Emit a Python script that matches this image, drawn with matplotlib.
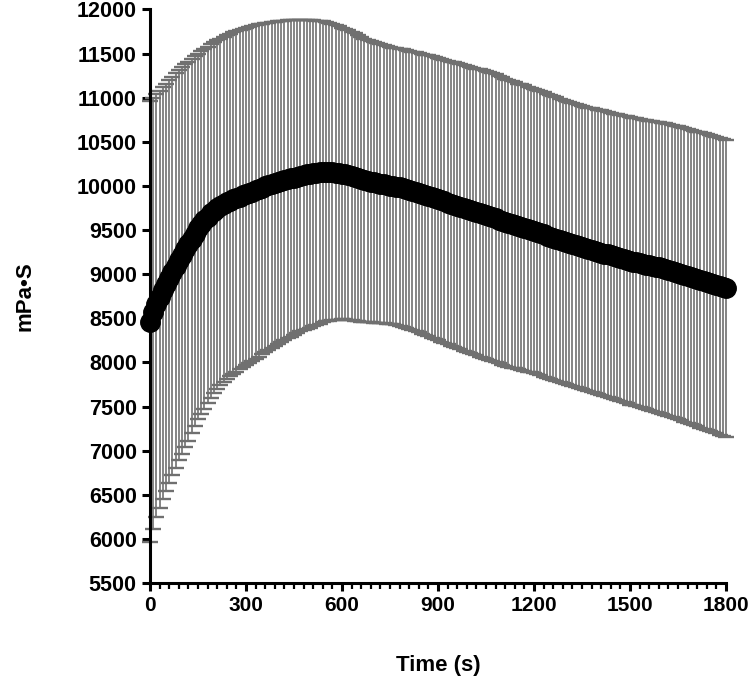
import matplotlib
matplotlib.use("Agg")
import matplotlib.pyplot as plt

# Time points (s), one reading every 10 s
time_s = list(range(0, 1801, 10))

# Mean viscosity (mPa·s)
mean_visc = [
    8460, 8570, 8660, 8740, 8820, 8890, 8960, 9030, 9090, 9160,
    9220, 9280, 9340, 9400, 9460, 9520, 9570, 9610, 9650, 9690,
    9720, 9750, 9775, 9795, 9815, 9835, 9850, 9865, 9880, 9895,
    9905, 9920, 9935, 9950, 9965, 9980, 9995, 10010, 10025, 10035,
    10045, 10055, 10065, 10075, 10085, 10095, 10105, 10115, 10125, 10130,
    10138, 10145, 10150, 10155, 10160, 10162, 10160, 10156, 10150, 10145,
    10140, 10135, 10125, 10112, 10100, 10088, 10075, 10065, 10055, 10047,
    10040, 10032, 10026, 10020, 10012, 10005, 9998, 9990, 9983, 9975,
    9965, 9955, 9945, 9935, 9925, 9912, 9900, 9888, 9875, 9862,
    9850, 9838, 9825, 9812, 9800, 9788, 9776, 9764, 9752, 9740,
    9728, 9716, 9705, 9694, 9683, 9672, 9660, 9646, 9632, 9618,
    9604, 9590, 9576, 9564, 9553, 9543, 9533, 9523, 9512, 9500,
    9488, 9476, 9463, 9450, 9437, 9424, 9411, 9398, 9385, 9372,
    9360, 9349, 9338, 9327, 9316, 9305, 9295, 9285, 9275, 9265,
    9255, 9245, 9234, 9224, 9213, 9202, 9192, 9182, 9172, 9162,
    9152, 9143, 9134, 9125, 9116, 9108, 9100, 9092, 9084, 9076,
    9068, 9058, 9048, 9037, 9026, 9015, 9004, 8993, 8982, 8970,
    8958, 8946, 8934, 8922, 8910, 8898, 8886, 8874, 8862, 8850,
    8840,
]

# Error bar length above the mean (mPa·s)
err_up = [
    2500, 2430, 2380, 2340, 2300, 2270, 2240, 2210, 2185, 2150,
    2125, 2100, 2070, 2040, 2010, 1980, 1958, 1945, 1930, 1915,
    1908, 1900, 1895, 1895, 1893, 1890, 1890, 1890, 1888, 1885,
    1887, 1883, 1878, 1872, 1865, 1858, 1850, 1842, 1833, 1828,
    1822, 1816, 1809, 1802, 1794, 1783, 1773, 1763, 1753, 1755,
    1745, 1735, 1725, 1715, 1705, 1695, 1685, 1678, 1670, 1665,
    1650, 1645, 1640, 1635, 1628, 1620, 1612, 1605, 1598, 1592,
    1588, 1584, 1580, 1576, 1572, 1568, 1568, 1568, 1570, 1572,
    1574, 1576, 1578, 1580, 1583, 1586, 1589, 1592, 1595, 1598,
    1600, 1603, 1605, 1608, 1610, 1612, 1614, 1616, 1618, 1620,
    1622, 1624, 1626, 1628, 1630, 1632, 1634, 1633, 1632, 1630,
    1628, 1626, 1624, 1622, 1620, 1618, 1617, 1616, 1615, 1614,
    1613, 1612, 1611, 1610, 1609, 1608, 1607, 1606, 1605, 1604,
    1603, 1603, 1602, 1602, 1602, 1602, 1603, 1604, 1605, 1607,
    1609, 1611, 1613, 1615, 1617, 1619, 1621, 1623, 1625, 1627,
    1629, 1631, 1633, 1635, 1637, 1639, 1641, 1643, 1645, 1647,
    1649, 1651, 1653, 1655, 1657, 1659, 1661, 1663, 1665, 1667,
    1669, 1671, 1673, 1675, 1676, 1677, 1678, 1679, 1680, 1682,
    1684,
]

# Error bar length below the mean (mPa·s)
err_down = [
    2490, 2455, 2415, 2390, 2365, 2345, 2325, 2305, 2290, 2270,
    2255, 2240, 2225, 2205, 2185, 2165, 2150, 2135, 2115, 2090,
    2070, 2050, 2035, 2020, 2005, 1990, 1980, 1968, 1955, 1945,
    1935, 1925, 1915, 1908, 1898, 1888, 1878, 1866, 1856, 1845,
    1835, 1825, 1813, 1803, 1793, 1783, 1773, 1763, 1753, 1755,
    1745, 1735, 1725, 1715, 1705, 1695, 1685, 1678, 1670, 1665,
    1650, 1645, 1640, 1635, 1628, 1620, 1612, 1605, 1598, 1592,
    1588, 1584, 1580, 1576, 1572, 1568, 1568, 1568, 1570, 1572,
    1574, 1576, 1578, 1580, 1583, 1586, 1589, 1592, 1595, 1598,
    1600, 1603, 1605, 1608, 1610, 1612, 1614, 1616, 1618, 1620,
    1622, 1624, 1626, 1628, 1630, 1632, 1634, 1633, 1632, 1630,
    1628, 1626, 1624, 1622, 1620, 1618, 1617, 1616, 1615, 1614,
    1613, 1612, 1611, 1610, 1609, 1608, 1607, 1606, 1605, 1604,
    1603, 1603, 1602, 1602, 1602, 1602, 1603, 1604, 1605, 1607,
    1609, 1611, 1613, 1615, 1617, 1619, 1621, 1623, 1625, 1627,
    1629, 1631, 1633, 1635, 1637, 1639, 1641, 1643, 1645, 1647,
    1649, 1651, 1653, 1655, 1657, 1659, 1661, 1663, 1665, 1667,
    1669, 1671, 1673, 1675, 1676, 1677, 1678, 1679, 1680, 1682,
    1684,
]

x_ticks = [0, 300, 600, 900, 1200, 1500, 1800]
y_ticks = list(range(5500, 12001, 500))

fig = plt.figure(figsize=(7.5, 6.83), dpi=100)
ax = fig.add_axes([0.2, 0.1464, 0.768, 0.8397])

ax.errorbar(time_s, mean_visc, yerr=[err_down, err_up], fmt='none',
            ecolor='#707070', elinewidth=1.2, capsize=6, capthick=1.7,
            clip_on=False, zorder=2)
ax.plot(time_s, mean_visc, 'o', color='black', markersize=14,
        clip_on=False, zorder=3)

ax.set_xlim(0, 1800)
ax.set_ylim(5500, 12000)
ax.set_xticks(x_ticks)
ax.set_xticks(list(range(0, 1801, 30)), minor=True)
ax.set_yticks(y_ticks)

for s in ['top', 'right']:
    ax.spines[s].set_visible(False)
for s in ['left', 'bottom']:
    ax.spines[s].set_linewidth(2.2)
    ax.spines[s].set_color('black')

ax.tick_params(axis='y', which='major', direction='out', length=6, width=2.2)
ax.tick_params(axis='x', which='major', direction='out', length=6, width=2.2)
ax.tick_params(axis='x', which='minor', direction='out', length=4, width=1.6)

fam = ['Liberation Sans', 'DejaVu Sans']
ax.set_yticklabels([str(v) for v in y_ticks],
                   fontdict=dict(family=fam, weight='bold', size=15.5))
ax.set_xticklabels([str(v) for v in x_ticks],
                   fontdict=dict(family=fam, weight='bold', size=15))

ax.set_ylabel('mPa•S', fontdict=dict(family=fam, weight='bold', size=16))
ax.set_xlabel('Time (s)', fontdict=dict(family=fam, weight='bold', size=16))
ax.yaxis.set_label_coords(-0.198, 0.5)
ax.xaxis.set_label_coords(0.5, -0.125)

fig.savefig('out.png', dpi=100)
